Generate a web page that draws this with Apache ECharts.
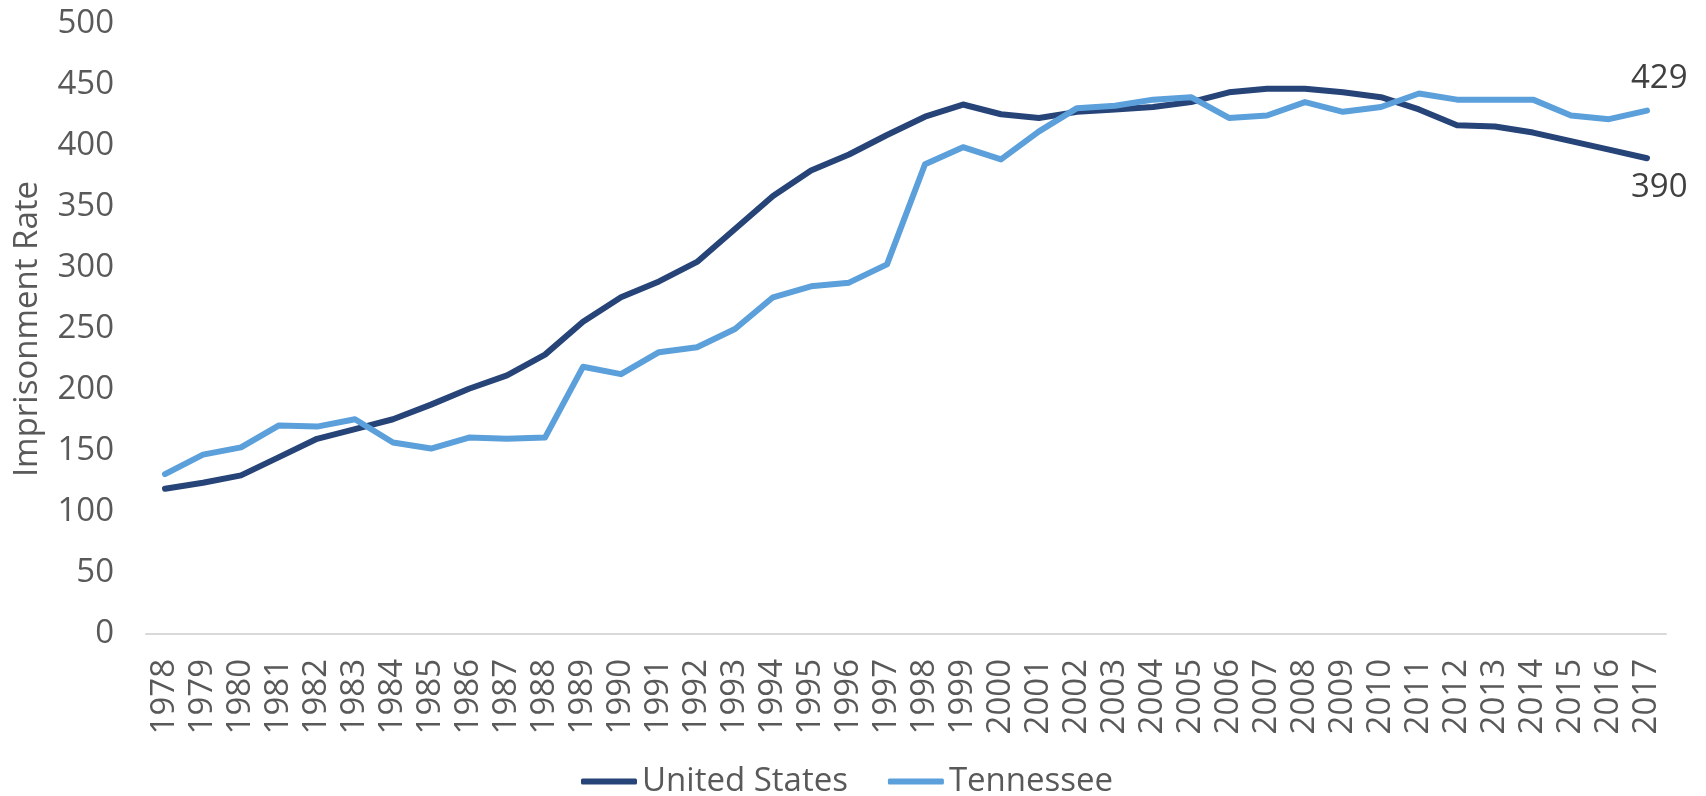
<!DOCTYPE html>
<html>
<head>
<meta charset="utf-8">
<script src="https://cdn.jsdelivr.net/npm/echarts@6/dist/echarts.min.js"></script>
<style>
  html, body { margin: 0; padding: 0; background: #fff; }
  #chart { width: 1706px; height: 796px; }
</style>
</head>
<body>
<div id="chart"></div>
<script>
// years on the x axis
const years = [];
for (let y = 1978; y <= 2017; y++) years.push(String(y));

// imprisonment rate per 100,000
const unitedStates = [
  119, 124, 130, 145, 160, 168, 176, 188, 201, 212,
  229, 256, 276, 289, 305, 332, 359, 380, 393, 409,
  424, 434, 426, 423, 428, 430, 432, 436, 444, 447,
  447, 444, 440, 430, 417, 416, 411, 404, 397, 390
];
const tennessee = [
  131, 147, 153, 171, 170, 176, 157, 152, 161, 160,
  161, 219, 213, 231, 235, 250, 276, 285, 288, 303,
  385, 399, 389, 412, 431, 433, 438, 440, 423, 425,
  436, 428, 432, 443, 438, 438, 438, 425, 422, 429
];

const yTicks = { min: 0, max: 500, interval: 50 };

const FONT = '"Open Sans", "Liberation Sans", sans-serif';
const FS = 33;
const US_COLOR = '#264478';
const TN_COLOR = '#5B9FDB';

// value shown next to the last point of a line
function endLabel(offsetY) {
  return {
    show: true,
    formatter: '{c}',
    distance: 0,
    offset: [-16, offsetY],
    color: '#404040',
    fontSize: FS,
    fontFamily: FONT
  };
}

const chart = echarts.init(document.getElementById('chart'));

const option = {
  animation: false,
  grid: { left: 146, right: 40, top: 24, bottom: 162 },
  legend: {
    data: [
      { name: 'United States', icon: 'roundRect' },
      { name: 'Tennessee', icon: 'roundRect' }
    ],
    left: 576,
    top: 760,
    itemWidth: 56,
    itemHeight: 6,
    itemGap: 40,
    textStyle: { fontSize: FS, color: '#595959', fontFamily: FONT }
  },
  xAxis: {
    type: 'category',
    data: years,
    boundaryGap: true,
    axisLine: { lineStyle: { color: '#D9D9D9', width: 2 } },
    axisTick: { show: false },
    axisLabel: {
      rotate: 90,
      interval: 0,
      margin: 25,
      fontSize: FS,
      color: '#595959',
      fontFamily: FONT
    }
  },
  yAxis: {
    type: 'value',
    min: yTicks.min,
    max: yTicks.max,
    interval: yTicks.interval,
    name: 'Imprisonment Rate',
    nameLocation: 'middle',
    nameRotate: 90,
    nameGap: 102,
    nameTextStyle: { fontSize: FS, color: '#595959', fontFamily: FONT },
    splitLine: { show: false },
    axisLine: { show: false },
    axisTick: { show: false },
    axisLabel: { fontSize: FS, color: '#595959', fontFamily: FONT, margin: 32 }
  },
  series: [
    {
      name: 'United States',
      type: 'line',
      data: unitedStates,
      showSymbol: false,
      symbol: 'none',
      color: US_COLOR,
      lineStyle: { width: 6, color: US_COLOR, cap: 'round', join: 'round' },
      endLabel: endLabel(29)
    },
    {
      name: 'Tennessee',
      type: 'line',
      data: tennessee,
      showSymbol: false,
      symbol: 'none',
      color: TN_COLOR,
      lineStyle: { width: 6, color: TN_COLOR, cap: 'round', join: 'round' },
      endLabel: endLabel(-32)
    }
  ]
};

chart.setOption(option);
</script>
</body>
</html>
